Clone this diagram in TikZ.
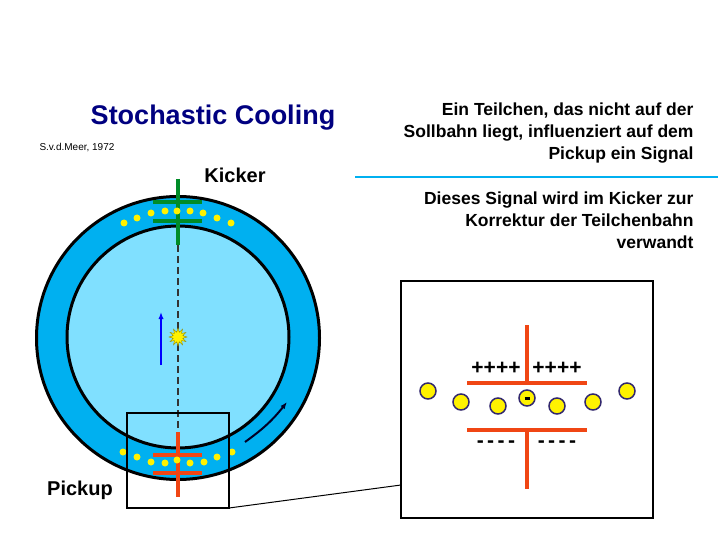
\documentclass[tikz,border=0pt]{standalone}
\usepackage{fontspec}
\setmainfont{Liberation Sans}
\usetikzlibrary{shapes.geometric,arrows.meta}
\definecolor{ringblue}{RGB}{0,176,240}
\definecolor{innerblue}{RGB}{128,224,255}
\definecolor{titlenavy}{RGB}{0,0,128}
\definecolor{kickgreen}{RGB}{0,140,40}
\definecolor{pickred}{RGB}{240,70,20}
\definecolor{dotborder}{RGB}{50,40,110}
\begin{document}
\begin{tikzpicture}[x=1pt, y=-1pt,
    lbl/.style={font=\bfseries\fontsize{20}{22}\selectfont},
    txt/.style={font=\bfseries\fontsize{17.5}{22}\selectfont, align=right, anchor=north east},
    dot/.style={circle, fill=yellow, inner sep=0pt, minimum size=7pt},
    bigdot/.style={circle, fill=yellow, draw=dotborder, line width=1.5pt, inner sep=0pt, minimum size=16pt},
    plate/.style={line width=3.5pt},
    sign/.style={font=\bfseries\fontsize{21}{21}\selectfont}
]
    \useasboundingbox (0,0) rectangle (720,540);
    % ring
    \fill[ringblue, draw=black, line width=3pt] (178,338) circle (141.5);
    \fill[innerblue, draw=black, line width=3pt] (178,337) circle (111);
    % texts
    \node[font=\bfseries\fontsize{27}{30}\selectfont, text=titlenavy] (title) at (213,118) {Stochastic Cooling};
    \node[font=\fontsize{10}{12}\selectfont, anchor=west] (meer) at (36,148) {S.v.d.Meer, 1972};
    \node[lbl] (kicker) at (235,175) {Kicker};
    \node[lbl] (pickup) at (80,490) {Pickup};
    \node[txt] (info1) at (697,99) {Ein Teilchen, das nicht auf der\\Sollbahn liegt, influenziert auf dem\\Pickup ein Signal};
    \draw[ringblue, line width=2.5pt] (355,177) -- (718,177);
    \node[txt] (info2) at (697,188) {Dieses Signal wird im Kicker zur\\Korrektur der Teilchenbahn\\verwandt};
    % kicker
    \coordinate (ktop) at (178,179);
    \coordinate (kbot) at (178,245);
    \coordinate (ptop) at (178,432);
    \coordinate (pbot) at (178,497);
    \draw[kickgreen, plate] (ktop) -- (kbot);
    \draw[kickgreen, plate] (153,202) -- (202,202);
    \draw[kickgreen, plate] (153,221) -- (202,221);
    \draw[black!80, line width=2.2pt, dash pattern=on 7pt off 4pt] (kbot) -- (ptop);
    \draw[pickred, plate] (ptop) -- (pbot);
    \draw[pickred, plate] (153,455) -- (202,455);
    \draw[pickred, plate] (153,473) -- (202,473);
    % particles
    \foreach \x/\y [count=\i] in {124/223,137/218,151/213,165/211,177/211,190/211,203/213,217/218,231/223}
        \node[dot] (top\i) at (\x,\y) {};
    \foreach \x/\y [count=\i] in {123/452,137/457,151/462,165/463,177/460,190/463,204/462,217/457,232/452}
        \node[dot] (bot\i) at (\x,\y) {};
    % kick and motion
    \coordinate (ka) at (161,365);
    \coordinate (kb) at (161,312);
    \draw[blue, line width=2pt, -{Latex[length=7pt]}] (ka) -- (kb);
    \node[star, star points=12, star point ratio=1.8, fill=yellow, draw=olive, inner sep=0pt, minimum size=18pt] (hit) at (178,337) {};
    \coordinate (ma) at (245,442);
    \coordinate (mb) at (287,402);
    \draw[black!85!blue, line width=2pt, -{Latex[length=7pt]}] (ma) to[bend right=8] (mb);
    % zoom box
    \draw[line width=1.3pt] (127,413) rectangle (229,508);
    \coordinate (zc) at (229,508);
    \coordinate (zd) at (401,485);
    \draw[line width=1pt] (zc) -- (zd);
    \draw[line width=1.6pt] (401,281) rectangle (653,518);
    % inset
    \draw[pickred, line width=4.5pt] (527,325) -- (527,383);
    \draw[pickred, line width=4.5pt] (467,383) -- (587,383);
    \draw[pickred, line width=4.5pt] (467,430) -- (587,430);
    \draw[pickred, line width=4.5pt] (527,430) -- (527,489);
    \node[sign] (plusl) at (496,368) {++++};
    \node[sign] (plusr) at (557,368) {++++};
    \node[sign] (minl) at (496,444) {-\,-\,-\,-};
    \node[sign] (minr) at (557,444) {-\,-\,-\,-};
    \foreach \x/\y [count=\i] in {428/391,461/402,498/406,557/406,593/402,627/391}
        \node[bigdot] (p\i) at (\x,\y) {};
    \node[bigdot] (pm) at (527,398) {\rule[-1.5pt]{5pt}{3pt}};
\end{tikzpicture}
\end{document}
